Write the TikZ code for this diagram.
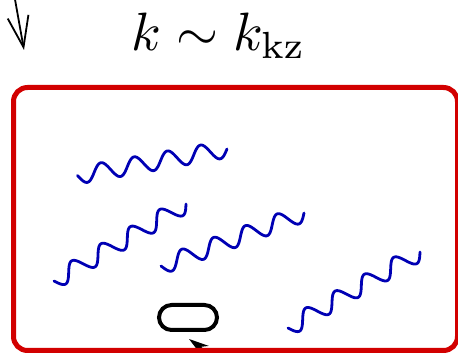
\documentclass[tikz,border=0pt]{standalone}
\usetikzlibrary{arrows.meta,shapes.misc}
\definecolor{boxred}{RGB}{210,0,0}
\definecolor{waveblue}{RGB}{0,0,180}
\tikzset{
  wavy/.style={draw=waveblue, line width=2.8pt, line cap=round, line join=round},
  framebox/.style={draw=boxred, line width=5pt, rounded corners=14pt},
  pillbox/.style={draw=black, line width=4pt, rounded rectangle, minimum width=58pt, minimum height=25pt, inner sep=0pt},
  barbarrow/.style={draw=black, line width=1.8pt, -{Straight Barb[length=31pt,width=21pt]}},
  stealtharrow/.style={draw=black, line width=1.5pt, -{Stealth[length=20pt,width=12pt]}},
  titletext/.style={scale=5.4, anchor=base, inner sep=0pt},
}
\newcommand{\wavepath}[4]{%
  \begin{scope}[shift={(#1,#2)}, rotate=#3]
    \draw[wavy] plot[domain=0:#4, samples=160, smooth] (\x, {-8.5*sin((1620/#4)*\x)});
  \end{scope}}
\begin{document}
\begin{tikzpicture}[x=1pt,y=1pt]
  \useasboundingbox (0,0) rectangle (458,353);
  % title
  \node[titletext] (title) at (218.5,302.5) {$k \sim k_{\mathrm{kz}}$};
  % top-left arrow
  \coordinate (a1s) at (13.5,362);
  \coordinate (a1e) at (24,303);
  \draw[barbarrow] (a1s) -- (a1e);
  % waves
  \wavepath{77.5}{177.5}{10.05}{151.8}
  \wavepath{54}{72}{30.26}{152.8}
  \wavepath{161}{87}{20.33}{152.5}
  \wavepath{288}{25}{29.93}{152.3}
  % pill
  \node[pillbox] (pill) at (188,35.5) {};
  % bottom arrow
  \coordinate (a2s) at (222,-10);
  \coordinate (a2e) at (189,14);
  \draw[stealtharrow] (a2s) -- (a2e);
  % frame
  \draw[framebox] (13.5,2.5) rectangle (457.5,265.5);
\end{tikzpicture}
\end{document}
